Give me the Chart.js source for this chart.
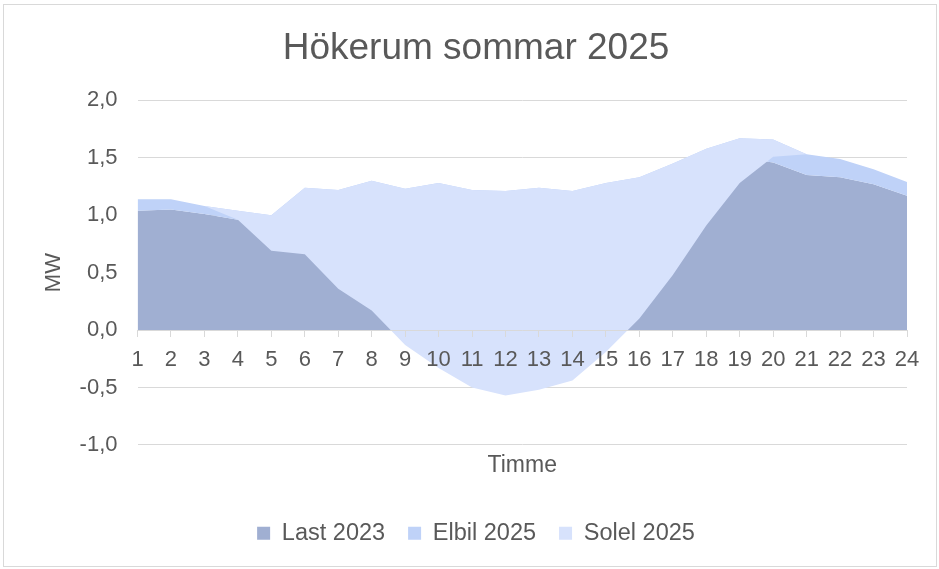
<!DOCTYPE html>
<html>
<head>
<meta charset="utf-8">
<script src="https://cdn.jsdelivr.net/npm/chart.js@4.4.1/dist/chart.umd.min.js"></script>
<style>
  html, body { margin: 0; padding: 0; background: #fff; }
  #wrap { position: relative; width: 939px; height: 569px; }
  #frame { position: absolute; left: 3px; top: 4px; width: 932px; height: 561px; border: 1px solid #d9d9d9; }
  #chart { position: absolute; left: 0; top: 0; }
</style>
</head>
<body>
<div id="wrap">
  <div id="frame"></div>
  <canvas id="chart" width="939" height="569"></canvas>
</div>
<script>
const hours = ['1', '2', '3', '4', '5', '6', '7', '8', '9', '10', '11', '12',
               '13', '14', '15', '16', '17', '18', '19', '20', '21', '22', '23', '24'];

// MW per timme, staplade som i Excel (Solel negativ)
const last2023 = [1.04, 1.05, 1.01, 0.96, 0.95, 1.09, 1.02, 1.05, 0.98, 1.03, 1.02, 1.01,
                  1.04, 1.01, 1.08, 1.13, 1.20, 1.33, 1.50, 1.46, 1.35, 1.33, 1.27, 1.17];
const elbil2025 = [0.10, 0.09, 0.07, 0.08, 0.05, 0.15, 0.20, 0.25, 0.25, 0.25, 0.20, 0.20,
                   0.20, 0.20, 0.20, 0.20, 0.25, 0.25, 0.17, 0.20, 0.18, 0.16, 0.13, 0.12];
const solel2025 = [0, 0, 0, -0.08, -0.31, -0.58, -0.86, -1.13, -1.36, -1.61, -1.72, -1.78,
                   -1.76, -1.65, -1.47, -1.23, -0.97, -0.67, -0.39, -0.15, 0, 0, 0, 0];

const seriesNames = ['Last 2023', 'Elbil 2025', 'Solel 2025'];
const seriesColors = ['#a0afd2', '#bfd2f8', '#d7e2fc'];

// cumulative lines, so the top of the stack can be drawn last (on top)
const lastLine = last2023.slice();
const elbilLine = lastLine.map((v, i) => v + elbil2025[i]);
const solelLine = elbilLine.map((v, i) => v + solel2025[i]);

const textColor = '#595959';
const fontFamily = '"Liberation Sans", Arial, sans-serif';
const gridColor = '#d9d9d9';

function area(label, data, color, fill) {
    return {
        label: label,
        data: data,
        backgroundColor: color,
        borderColor: 'rgba(0,0,0,0)',
        borderWidth: 0,
        pointRadius: 0,
        pointHoverRadius: 0,
        tension: 0,
        fill: fill
    };
}

const ctx = document.getElementById('chart');

new Chart(ctx, {
    type: 'line',
    data: {
        labels: hours,
        datasets: [
            area(seriesNames[2], solelLine, seriesColors[2], '+1'),
            area(seriesNames[1], elbilLine, seriesColors[1], '+1'),
            area(seriesNames[0], lastLine, seriesColors[0], 'origin')
        ]
    },
    options: {
        responsive: false,
        animation: false,
        devicePixelRatio: 1,
        layout: { padding: { left: 45, right: 32, top: 0, bottom: 14 } },
        scales: {
            x: {
                type: 'category',
                position: { y: 0 },
                offset: false,
                grid: {
                    drawOnChartArea: false,
                    drawTicks: true,
                    tickLength: 6,
                    color: gridColor,
                    lineWidth: 1,
                    z: 1
                },
                border: { display: true, color: gridColor, width: 1, z: 1 },
                ticks: {
                    color: textColor,
                    font: { family: fontFamily, size: 22 },
                    padding: 11,
                    maxRotation: 0,
                    autoSkip: false,
                    z: 1
                }
            },
            y: {
                min: -1,
                max: 2,
                grid: { color: gridColor, lineWidth: 1, drawTicks: false },
                border: { display: false },
                ticks: {
                    stepSize: 0.5,
                    color: textColor,
                    font: { family: fontFamily, size: 22 },
                    padding: 20,
                    callback: v => v.toFixed(1).replace('.', ',')
                },
                title: {
                    display: true,
                    text: 'MW',
                    color: textColor,
                    font: { family: fontFamily, size: 22 },
                    padding: { top: -4, bottom: 0 }
                },
                afterFit: scale => { scale.width = 92.5; }
            }
        },
        plugins: {
            title: {
                display: true,
                text: 'Hökerum sommar 2025',
                color: textColor,
                font: { family: fontFamily, size: 37, weight: 'normal' },
                padding: { top: 27, bottom: 29 }
            },
            subtitle: {
                display: true,
                text: 'Timme',
                position: 'bottom',
                fullSize: false,
                weight: 500,
                color: textColor,
                font: { family: fontFamily, size: 23 },
                padding: { top: 7, bottom: 19 }
            },
            legend: {
                position: 'bottom',
                reverse: true,
                labels: {
                    boxWidth: 13,
                    boxHeight: 13,
                    padding: 23,
                    color: textColor,
                    font: { family: fontFamily, size: 23.5 }
                }
            },
            tooltip: { enabled: false }
        }
    }
});
</script>
</body>
</html>
